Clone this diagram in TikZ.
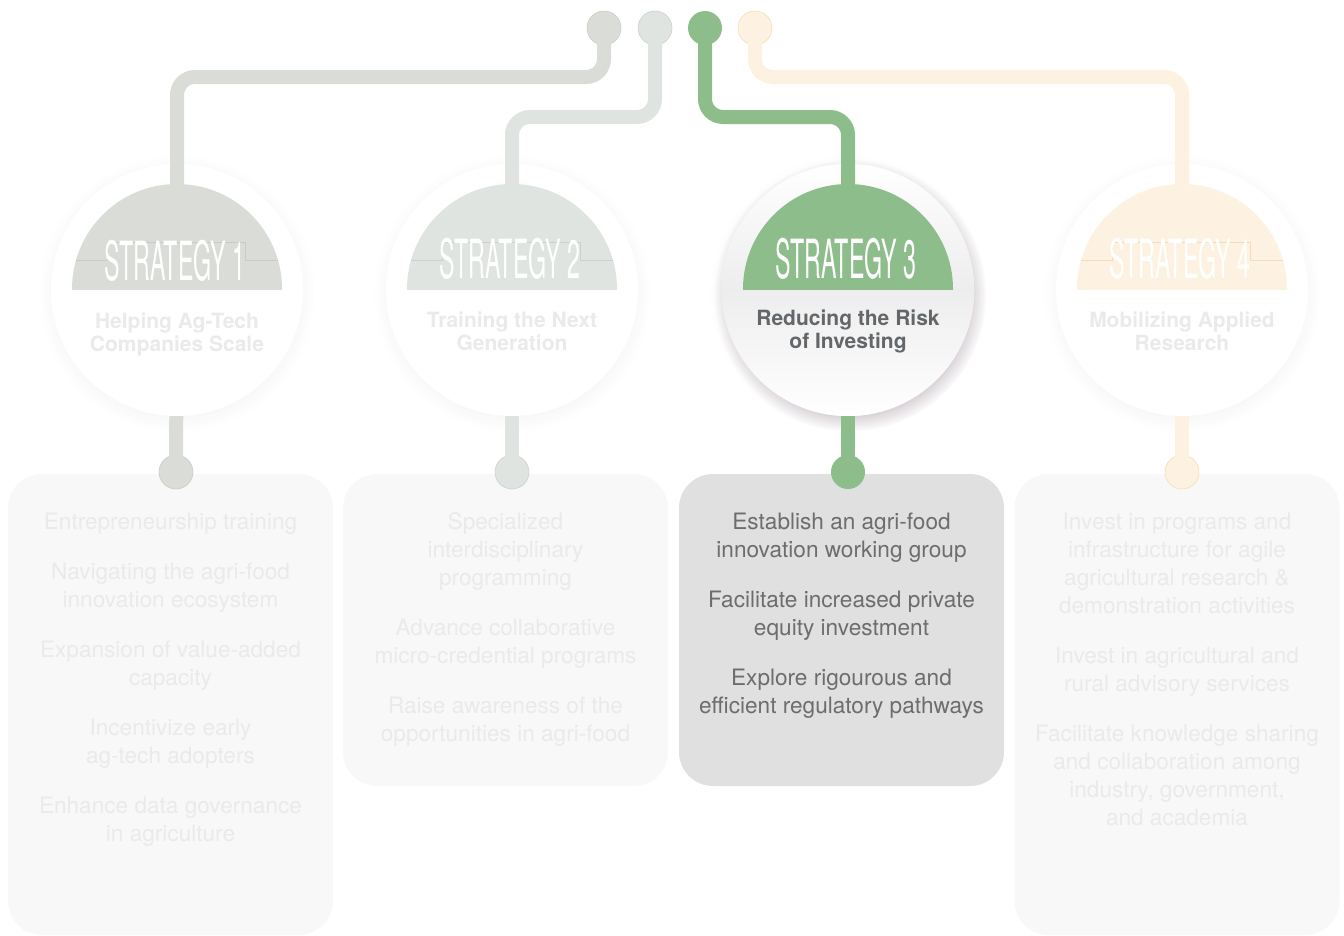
\documentclass[tikz,border=0pt]{standalone}
\usepackage{graphicx}
\usepackage{fontspec}
\setmainfont{TeX Gyre Heros}
\usepackage{tikz}
\usetikzlibrary{positioning}
\usetikzlibrary{shadows}
\definecolor{stoneline}{HTML}{DADCD8}
\definecolor{sageline}{HTML}{DFE4E0}
\definecolor{leafline}{HTML}{8DBD8A}
\definecolor{creamline}{HTML}{FDF2E1}
\definecolor{stoneedge}{HTML}{C8CBC6}
\definecolor{sageedge}{HTML}{CBD2CD}
\definecolor{creamedge}{HTML}{F4DDB4}
\definecolor{cardpale}{HTML}{F8F8F8}
\definecolor{cardgrey}{HTML}{E0E0E0}
\definecolor{textpale}{HTML}{EAEAEA}
\definecolor{textdark}{HTML}{6D6D6D}
\definecolor{titledark}{HTML}{63676A}
\definecolor{shadowrose}{HTML}{B3A6B0}
\tikzset{
  wire/.style={line width=14pt, rounded corners=18pt},
  knob/.style={circle, minimum size=34pt, inner sep=0pt, line width=0.6pt},
  ring/.style={circle, fill=white, minimum size=252pt, inner sep=0pt,
    circular drop shadow={shadow xshift=0pt, shadow yshift=-3pt, opacity=0.06, fill=black!60}},
  lit ring/.style={top color=white, bottom color=white, middle color=black!7,
    circular drop shadow={shadow xshift=2pt, shadow yshift=-5pt, shadow scale=1.08, opacity=0.55, fill=shadowrose}},
  card/.style={rounded corners=34pt, minimum width=325pt, inner sep=0pt},
  tag/.style={text=white, inner sep=0pt, font=\fontsize{54}{54}\selectfont},
  title/.style={align=center, inner sep=0pt, font=\bfseries\fontsize{21}{23}\selectfont},
  item/.style={align=center, inner sep=0pt, font=\fontsize{22.6}{28}\selectfont},
  strategy head/.pic={
    \begin{scope}
      \clip (-108,-108) rectangle (108,0);
      \fill[pic actions] (0,0) circle[radius=105pt];
    \end{scope}
  },
  head frame/.pic={
    \draw[pic actions, line width=0.6pt] (-101,-29) -- (-70,-29) -- (-70,-47)
      -- (68,-47) -- (68,-29) -- (101,-29);
  },
}
\begin{document}
\begin{tikzpicture}[x=1pt, y=-1pt]
  \useasboundingbox (0,0) rectangle (1344,935);

  % Rings
  \node[ring] (ring1) at (177,290) {};
  \node[ring] (ring2) at (512,290) {};
  \node[ring, lit ring] (ring3) at (848,290) {};
  \node[ring] (ring4) at (1182,290) {};

  % Cards
  \node[card, fill=cardpale, minimum height=461pt] (card1) at (170.5,704.5) {};
  \node[card, fill=cardpale, minimum height=312pt] (card2) at (505.5,630) {};
  \node[card, fill=cardgrey, minimum height=312pt] (card3) at (841.5,630) {};
  \node[card, fill=cardpale, minimum height=461pt] (card4) at (1177,704.5) {};

  % Knobs
  \node[knob, fill=stoneline, draw=stoneedge] (top1) at (604,28) {};
  \node[knob, fill=sageline, draw=sageedge] (top2) at (655,28) {};
  \node[knob, fill=leafline] (top3) at (705,28) {};
  \node[knob, fill=creamline, draw=creamedge] (top4) at (755,28) {};

  \node[knob, fill=stoneline, draw=stoneedge] (foot1) at (176,472) {};
  \node[knob, fill=sageline, draw=sageedge] (foot2) at (512,472) {};
  \node[knob, fill=leafline] (foot3) at (848,472) {};
  \node[knob, fill=creamline, draw=creamedge] (foot4) at (1182,472) {};

  \coordinate (bend1) at (390,77);
  \coordinate (bend2) at (584,117);
  \coordinate (bend3) at (776,117);
  \coordinate (bend4) at (968,77);
  \coordinate (cap1) at (177,200);
  \coordinate (cap2) at (512,200);
  \coordinate (cap3) at (848,200);
  \coordinate (cap4) at (1182,200);

  % Wires
  \draw[wire, stoneline] ([yshift=-10pt]top1.center) |- (bend1) -| (cap1);
  \draw[wire, sageline] ([yshift=-10pt]top2.center) |- (bend2) -| (cap2);
  \draw[wire, leafline] ([yshift=-10pt]top3.center) |- (bend3) -| (cap3);
  \draw[wire, creamline] ([yshift=-10pt]top4.center) |- (bend4) -| (cap4);

  \draw[wire, stoneline] (ring1) -- ([yshift=10pt]foot1.center);
  \draw[wire, sageline] (ring2) -- ([yshift=10pt]foot2.center);
  \draw[wire, leafline] (ring3) -- ([yshift=10pt]foot3.center);
  \draw[wire, creamline] (ring4) -- ([yshift=10pt]foot4.center);

  % Heads
  \pic[fill=stoneline] (head1) at (177,289) {strategy head};
  \pic[fill=sageline] (head2) at (512,289) {strategy head};
  \pic[fill=leafline] (head3) at (848,289) {strategy head};
  \pic[fill=creamline] (head4) at (1182,289) {strategy head};
  \pic[draw=stoneedge] (frame1) at (177,289) {head frame};
  \pic[draw=sageedge] (frame2) at (512,289) {head frame};
  \pic[draw=creamedge] (frame4) at (1182,289) {head frame};

  \node[tag] (tag1) at (175,261) {\scalebox{0.43}[1]{STRATEGY 1}};
  \node[tag] (tag2) at (510,259) {\scalebox{0.43}[1]{STRATEGY 2}};
  \node[tag] (tag3) at (846,259) {\scalebox{0.43}[1]{STRATEGY 3}};
  \node[tag] (tag4) at (1180,259) {\scalebox{0.43}[1]{STRATEGY 4}};

  \node[title, text=textpale] (title1) at (177,334) {Helping Ag-Tech\\Companies Scale};
  \node[title, text=textpale] (title2) at (512,331) {Training the Next\\Generation};
  \node[title, text=titledark] (title3) at (848,331) {Reducing the Risk\\of Investing};
  \node[title, text=textpale] (title4) at (1182,331) {Mobilizing Applied\\Research};

  % Card texts
  \node[item, text=textpale, below=39pt of card1.north] (list1) {Entrepreneurship training\\[22pt]
    Navigating the agri-food\\innovation ecosystem\\[22pt]
    Expansion of value-added\\capacity\\[22pt]
    Incentivize early\\ag-tech adopters\\[22pt]
    Enhance data governance\\in agriculture};
  \node[item, text=textpale, below=39pt of card2.north] (list2) {Specialized\\interdisciplinary\\programming\\[22pt]
    Advance collaborative\\micro-credential programs\\[22pt]
    Raise awareness of the\\opportunities in agri-food};
  \node[item, text=textdark, below=39pt of card3.north] (list3) {Establish an agri-food\\innovation working group\\[22pt]
    Facilitate increased private\\equity investment\\[22pt]
    Explore rigourous and\\efficient regulatory pathways};
  \node[item, text=textpale, below=39pt of card4.north] (list4) {Invest in programs and\\infrastructure for agile\\agricultural research \&\\demonstration activities\\[22pt]
    Invest in agricultural and\\rural advisory services\\[22pt]
    Facilitate knowledge sharing\\and collaboration among\\industry, government,\\and academia};

\end{tikzpicture}
\end{document}
